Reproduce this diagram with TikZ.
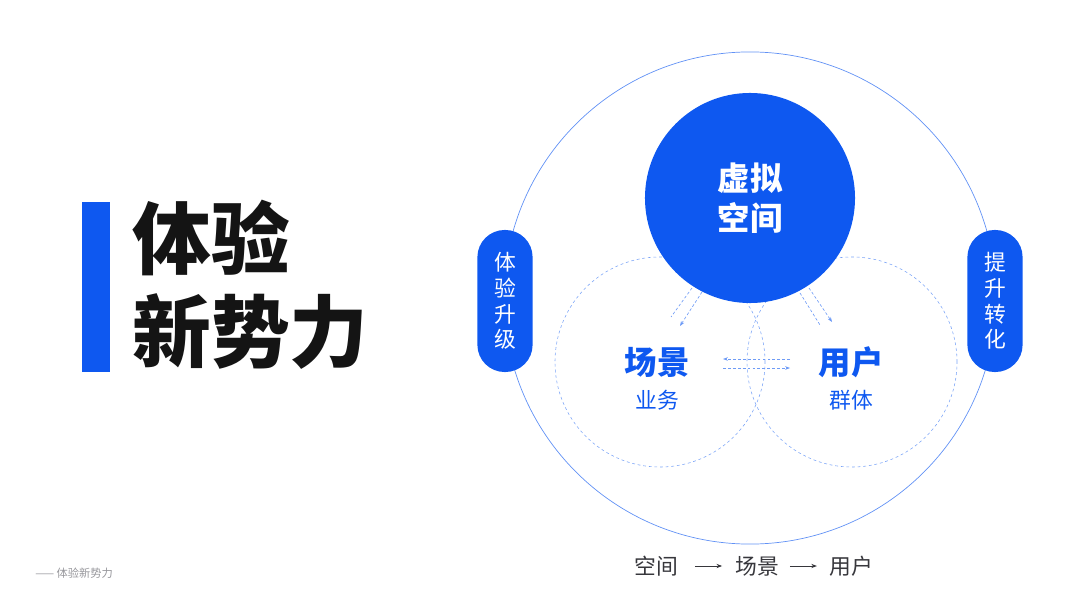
\documentclass[tikz,border=0pt]{standalone}
\usepackage{fontspec}
\setmainfont{Noto Sans CJK SC}
\usetikzlibrary{positioning,arrows.meta}
\definecolor{brandBlue}{RGB}{14, 88, 240}
\definecolor{brandDark}{RGB}{20, 20, 20}
\definecolor{brandText}{RGB}{55, 55, 60}
\definecolor{brandGray}{RGB}{150, 150, 155}

\begin{document}
\begin{tikzpicture}[
  x=0.025cm,y=-0.025cm,
  every node/.style={align=center, inner sep=0pt},
  ring/.style={circle, draw=brandBlue!65, line width=.5pt, minimum size=12.3cm},
  halo/.style={circle, draw=brandBlue!55, dash pattern=on 2pt off 2pt, line width=.4pt, minimum size=5.25cm},
  hub/.style={circle, fill=brandBlue, text=white, minimum size=5.25cm, font=\fontsize{23}{28.5}\selectfont\bfseries},
  pill/.style={rounded corners=0.68cm, fill=brandBlue, text=white, minimum width=1.38cm, minimum height=3.55cm, font=\fontsize{15.5}{18.2}\selectfont},
  big/.style={font=\fontsize{23}{28}\selectfont\bfseries, text=brandBlue},
  small/.style={font=\fontsize{15.5}{18}\selectfont, text=brandBlue},
  flow/.style={draw=brandBlue!60, dash pattern=on 2pt off 1.5pt, line width=.45pt},
  tip/.style={-{Stealth[length=3.5pt,width=2.6pt]}},
  pathtext/.style={font=\fontsize{15.5}{18}\selectfont, text=brandText},
  lead/.style={draw=brandText, line width=.6pt, -{Stealth[length=4pt,width=3pt]}}
]
% title
\fill[brandBlue] (82,202) rectangle (110,372);
\node[anchor=base west, font=\fontsize{56}{60}\selectfont\bfseries, text=brandDark] (title1) at (132,268) {体验};
\node[anchor=base west, font=\fontsize{56}{60}\selectfont\bfseries, text=brandDark] (title2) at (132,361) {新势力};
\node[anchor=west, font=\fontsize{8}{10}\selectfont, text=brandGray] (foot) at (35,573) {—— 体验新势力};

% circles
\node[ring] (outer) at (750,298) {};
\node[halo] (left) at (660,362) {};
\node[halo] (right) at (852,362) {};
\node[hub] (space) at (750,198) {虚拟\\空间};

\node[pill] (lpill) at (505,301) {体\\验\\升\\级};
\node[pill] (rpill) at (995,301) {提\\升\\转\\化};

\node[big] (scene) at (657,362) {场景};
\node[small] (biz) at (657,400) {业务};
\node[big] (user) at (851,362) {用户};
\node[small] (group) at (851,400) {群体};

% dashed flows
\coordinate (a1) at (692,288); \coordinate (a2) at (671,317);
\coordinate (b1) at (702,292); \coordinate (b2) at (680,326);
\coordinate (c1) at (800,293); \coordinate (c2) at (820,325);
\coordinate (d1) at (809,288); \coordinate (d2) at (832,322);
\coordinate (h1) at (790,359); \coordinate (h2) at (723,359);
\coordinate (h3) at (723,368); \coordinate (h4) at (790,368);
\draw[flow] (a1) -- (a2);
\draw[flow,tip] (b1) -- (b2);
\draw[flow] (c1) -- (c2);
\draw[flow,tip] (d1) -- (d2);
\draw[flow,tip] (h1) -- (h2);
\draw[flow,tip] (h3) -- (h4);

% bottom path
\node[pathtext] (p1) at (656,566) {空间};
\node[pathtext] (p2) at (757,566) {场景};
\node[pathtext] (p3) at (851,566) {用户};
\draw[lead] ([xshift=0.42cm]p1.east) -- ([xshift=-0.32cm]p2.west);
\draw[lead] ([xshift=0.27cm]p2.east) -- ([xshift=-0.3cm]p3.west);
\path[use as bounding box] (0,0) rectangle (1080,604);
\end{tikzpicture}
\end{document}
